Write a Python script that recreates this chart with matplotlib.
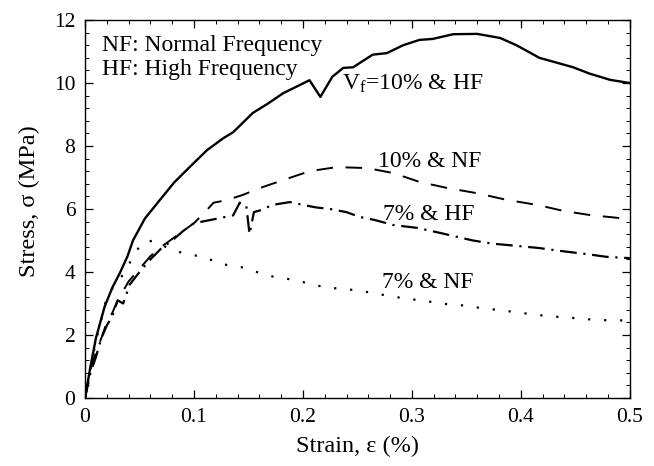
import matplotlib
matplotlib.use("Agg")
import matplotlib.pyplot as plt
from matplotlib.ticker import MultipleLocator

plt.rcParams['font.family'] = ['Liberation Serif', 'DejaVu Serif']
plt.rcParams['mathtext.fontset'] = 'custom'
plt.rcParams['mathtext.rm'] = 'Liberation Serif'
plt.rcParams['mathtext.it'] = 'Liberation Serif:italic'

# 10% & HF (solid)
hf10_x = [0, 0.005, 0.01, 0.018, 0.025, 0.032, 0.039, 0.044, 0.055, 0.069, 0.082, 0.096,
          0.112, 0.127, 0.136, 0.154, 0.168, 0.182, 0.195, 0.206, 0.216, 0.227, 0.237,
          0.246, 0.264, 0.277, 0.292, 0.307, 0.319, 0.338, 0.36, 0.381, 0.396, 0.417,
          0.448, 0.463, 0.482, 0.5]
hf10_y = [0, 1.0, 1.9, 2.9, 3.5, 3.97, 4.5, 5.0, 5.7, 6.3, 6.85, 7.33,
          7.87, 8.25, 8.44, 9.05, 9.35, 9.68, 9.9, 10.09, 9.56, 10.2, 10.48,
          10.5, 10.9, 10.95, 11.2, 11.37, 11.4, 11.55, 11.56, 11.43, 11.2, 10.8,
          10.5, 10.3, 10.1, 10.0]

# 10% & NF (dashed)
nf10_x = [0, 0.005, 0.01, 0.015, 0.02, 0.025, 0.03, 0.04, 0.05, 0.06, 0.07, 0.08, 0.09,
          0.1, 0.11, 0.118, 0.13, 0.145, 0.16, 0.182, 0.206, 0.231, 0.259, 0.283,
          0.307, 0.332, 0.36, 0.387, 0.415, 0.439, 0.463, 0.5]
nf10_y = [0, 0.9, 1.45, 1.9, 2.4, 2.7, 3.1, 3.7, 4.1, 4.5, 4.8, 5.05, 5.3,
          5.55, 5.9, 6.2, 6.28, 6.45, 6.66, 6.92, 7.2, 7.33, 7.3, 7.14,
          6.86, 6.67, 6.5, 6.29, 6.13, 5.94, 5.81, 5.68]

# 7% & HF (dash-dot)
hf7_x = [0, 0.005, 0.01, 0.015, 0.02, 0.025, 0.03, 0.035, 0.041, 0.05, 0.06, 0.07, 0.08,
         0.09, 0.1, 0.115, 0.136, 0.142, 0.148, 0.151, 0.155, 0.162, 0.172, 0.188,
         0.2, 0.212, 0.225, 0.24, 0.252, 0.266, 0.283, 0.305, 0.326, 0.356, 0.374,
         0.396, 0.417, 0.436, 0.46, 0.479, 0.5]
hf7_y = [0, 0.8, 1.3, 1.9, 2.3, 2.6, 3.1, 3.0, 3.6, 4.0, 4.4, 4.75, 5.0,
         5.3, 5.55, 5.65, 5.8, 6.2, 6.1, 5.2, 5.9, 5.97, 6.13, 6.22,
         6.13, 6.05, 6.0, 5.9, 5.75, 5.65, 5.49, 5.4, 5.24, 5.0, 4.9,
         4.83, 4.76, 4.67, 4.57, 4.48, 4.44]

# 7% & NF (dotted)
nf7_x = [0, 0.005, 0.01, 0.02, 0.028, 0.037, 0.043, 0.052, 0.063, 0.076, 0.087, 0.098,
         0.11, 0.121, 0.135, 0.148, 0.16, 0.174, 0.186, 0.2, 0.214, 0.227, 0.239,
         0.252, 0.266, 0.278, 0.292, 0.305, 0.318, 0.332, 0.344, 0.356, 0.37, 0.383,
         0.396, 0.41, 0.422, 0.436, 0.448, 0.461, 0.475, 0.488, 0.5]
nf7_y = [0, 0.95, 1.8, 3.2, 3.63, 4.0, 4.43, 4.92, 5.0, 4.76, 4.63, 4.54,
         4.48, 4.29, 4.19, 4.13, 3.97, 3.84, 3.78, 3.68, 3.56, 3.49, 3.46,
         3.4, 3.33, 3.24, 3.17, 3.11, 3.05, 2.98, 2.95, 2.89, 2.83, 2.78,
         2.72, 2.66, 2.61, 2.57, 2.54, 2.5, 2.47, 2.47, 2.45]

x_ticks = [0, 0.1, 0.2, 0.3, 0.4, 0.5]
x_labels = ['0', '0.1', '0.2', '0.3', '0.4', '0.5']
y_ticks = [0, 2, 4, 6, 8, 10, 12]

fig = plt.figure(figsize=(6.54, 4.66), dpi=100)
ax = fig.add_axes([0.130, 0.146, 0.833, 0.811])

ax.plot(hf10_x, hf10_y, color='black', lw=1.7, linestyle='-')
ax.plot(nf10_x, nf10_y, color='black', lw=1.4, linestyle=(0, (8.5, 6.5)))
ax.plot(hf7_x, hf7_y, color='black', lw=1.6, linestyle=(0, (7.5, 3, 1, 3)))
ax.plot(nf7_x, nf7_y, color='black', lw=1.6, linestyle=(0, (1, 6.2)))

ax.set_xlim(0, 0.5)
ax.set_ylim(0, 12)
ax.set_xticks(x_ticks)
ax.set_xticklabels(x_labels)
ax.set_yticks(y_ticks)
ax.xaxis.set_minor_locator(MultipleLocator(0.02))
ax.yaxis.set_minor_locator(MultipleLocator(0.4))
ax.tick_params(which='both', direction='in', top=True, right=True, labelsize=15.5)
ax.tick_params(which='major', length=6, width=0.9)
ax.tick_params(which='minor', length=3, width=0.7)
ax.tick_params(axis='x', which='major', pad=7)
ax.tick_params(axis='y', which='major', pad=7)
for s in ax.spines.values():
    s.set_linewidth(1.0)

ax.set_xlabel('Strain, ε (%)', fontsize=17.5)
ax.set_ylabel('Stress, σ (MPa)', fontsize=17.5)
ax.xaxis.set_label_coords(0.5, -0.100)
ax.yaxis.set_label_coords(-0.083, 0.521)

fs = 17
ax.text(0.0156, 11.03, 'NF: Normal Frequency', fontsize=fs, va='baseline', ha='left')
ax.text(0.0156, 10.25, 'HF: High Frequency', fontsize=fs, va='baseline', ha='left')
ax.text(0.2358, 9.78, r'V$_\mathrm{f}$=10% & HF', fontsize=fs, va='baseline', ha='left')
ax.text(0.269, 7.33, '10% & NF', fontsize=fs, va='baseline', ha='left')
ax.text(0.2734, 5.65, '7% & HF', fontsize=fs, va='baseline', ha='left')
ax.text(0.2725, 3.49, '7% & NF', fontsize=fs, va='baseline', ha='left')

fig.savefig('out.png', dpi=100)
